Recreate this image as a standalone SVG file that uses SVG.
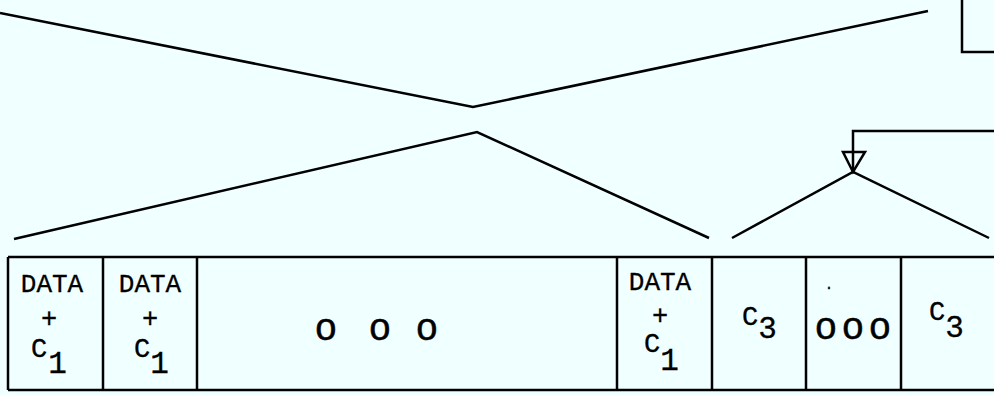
<svg xmlns="http://www.w3.org/2000/svg" width="994" height="395" viewBox="0 0 994 395">
<style>
.ln{fill:none;stroke:#000;stroke-width:2.5;stroke-linejoin:miter}
.bx{fill:none;stroke:#000;stroke-width:2.5}
.t{font-family:"Liberation Mono","DejaVu Sans Mono",monospace;fill:#000;text-anchor:middle;stroke:#000;stroke-width:0.3}
.u{font-family:"Liberation Mono","DejaVu Sans Mono",monospace;fill:#000;stroke:#000;stroke-width:0.3;font-size:27px}
.d{font-size:26px}
.p{font-size:27px}
.s{font-size:31px}
.o{font-family:"Liberation Mono","DejaVu Sans Mono",monospace;font-size:38px;fill:#000;text-anchor:middle;stroke:#000;stroke-width:0.5}
</style>
<rect width="994" height="395" fill="#f0ffff"/>
<g id="connectors">
<polyline class="ln" points="0,13 473,107 928,11"/>
<polyline class="ln" points="14,239 477,132 709,238"/>
<polyline class="ln" points="732,238 853,172 989,238"/>
<polyline class="ln" points="994,131 853,131 853,172"/>
<polygon class="ln" points="843,152 865,152 853,172"/>
<polyline class="ln" points="962,0 962,52 994,52"/>
</g>
<g id="frame">
<line class="bx" x1="8" y1="257" x2="994" y2="257"/>
<line class="bx" x1="8" y1="390" x2="994" y2="390"/>
<line class="bx" x1="8" y1="257" x2="8" y2="390"/>
</g>
<g id="cell1">
<line class="bx" x1="103" y1="257" x2="103" y2="390"/>
<text class="t d" x="52" y="292">DATA</text>
<text class="t p" x="49" y="327">+</text>
<text class="u" x="31" y="357">C<tspan class="s" dx="1" dy="16">1</tspan></text>
</g>
<g id="cell2">
<line class="bx" x1="197" y1="257" x2="197" y2="390"/>
<text class="t d" x="150" y="292">DATA</text>
<text class="t p" x="150" y="327">+</text>
<text class="u" x="134" y="357">C<tspan class="s" dx="0" dy="16">1</tspan></text>
</g>
<g id="cell-ellipsis1">
<line class="bx" x1="617" y1="257" x2="617" y2="390"/>
<text class="o" x="326" y="340">o</text>
<text class="o" x="380" y="340">o</text>
<text class="o" x="427" y="340">o</text>
</g>
<g id="cell3">
<line class="bx" x1="712" y1="257" x2="712" y2="390"/>
<text class="t d" x="660" y="290">DATA</text>
<text class="t p" x="660" y="324">+</text>
<text class="u" x="644" y="352">C<tspan class="s" dx="0" dy="18">1</tspan></text>
</g>
<g id="cell4">
<line class="bx" x1="806" y1="257" x2="806" y2="390"/>
<text class="u" x="742" y="325">C<tspan class="s" dx="0" dy="13">3</tspan></text>
</g>
<g id="cell-ellipsis2">
<line class="bx" x1="901" y1="257" x2="901" y2="390"/>
<text class="o" x="826" y="339">o</text>
<text class="o" x="853" y="339">o</text>
<text class="o" x="880" y="339">o</text>
<text class="t" style="font-size:14px" x="829" y="289">.</text>
</g>
<g id="cell5">
<text class="u" x="929" y="320">C<tspan class="s" dx="0" dy="17">3</tspan></text>
</g>
</svg>
